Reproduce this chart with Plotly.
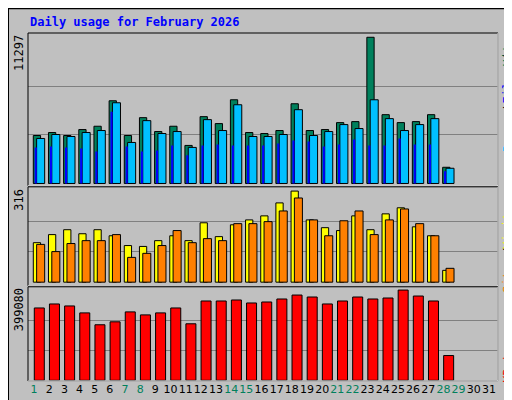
import plotly.graph_objects as go

days = list(range(1, 32))
data_days = list(range(1, 29))
hits = [3706,3936,3706,4166,4422,6390,3706,5086,4013,4422,2939,5163,4626,6467,3936,3859,4090,6160,4090,4166,4703,4780,11297,5316,4703,4780,5316,1252]
files = [3476,3783,3630,3936,4090,6237,3169,4856,3859,4013,2786,4933,4090,6083,3630,3630,3783,5700,3706,4013,4550,4243,6467,5010,4090,4550,5010,1176]
pages = [2786,2863,2786,2709,2479,5547,2863,2479,2556,2939,2173,2939,3016,2939,2939,2939,3093,3323,3246,2863,3016,3400,2939,2939,3476,3016,3016,946]
visits = [137,165,182,168,182,161,127,124,144,161,144,206,158,199,216,230,275,316,216,189,179,230,182,237,258,192,161,41]
sites = [131,106,134,144,144,165,86,100,127,179,137,151,144,203,203,210,247,292,216,161,213,247,165,216,254,203,161,48]
kbytes = [320000,337700,328900,298200,245600,258700,302600,289400,298200,320000,250000,350800,350800,355200,342000,346400,359600,377100,368400,337700,350800,368400,359600,364000,399080,372800,350800,109600]
weekend = [1,7,8,14,15,21,22,28,29]
max_hits, max_visits, max_kb = 11297, 316, 399080

BG = "#C0C0C0"
fig = go.Figure()
line = dict(color="black", width=1)
def bar(y, color, off, w, ax, outline=True):
    fig.add_bar(x=data_days, y=y, offset=off, width=w, marker=dict(color=color, line=line if outline else dict(width=0)),
                xaxis="x", yaxis=ax, showlegend=False, hoverinfo="skip")
bar(hits, "#00805C", -0.05, 0.48, "y")
bar(files, "#00C0FF", 0.17, 0.53, "y")
bar(pages, "#0000FF", 0.04, 0.14, "y", outline=False)
bar(visits, "#FFFF00", -0.05, 0.48, "y2")
bar(sites, "#FF8000", 0.17, 0.53, "y2")
bar(kbytes, "#FF0000", 0.015, 0.66, "y3")

ticktext = [f"<span style='color:{'#00805C' if d in weekend else 'black'}'>{d}</span>" for d in days]
grid = dict(showgrid=True, gridcolor="#808080", gridwidth=1, showticklabels=False, zeroline=False, ticks="")
fig.update_layout(
    width=512, height=400, paper_bgcolor=BG, plot_bgcolor=BG, barmode="overlay",
    margin=dict(l=20, r=22, t=25, b=24),
    font=dict(family="DejaVu Sans Mono", size=11, color="black"),
    xaxis=dict(range=[0.6, 31.6], tickvals=days, ticktext=ticktext, showgrid=False, zeroline=False,
               ticks="", tickangle=0, tickfont=dict(size=11, family="DejaVu Sans"), anchor="y3"),
    yaxis=dict(domain=[0.561, 1], range=[-178, 11627], tickvals=[max_hits/3, 2*max_hits/3], **grid),
    yaxis2=dict(domain=[0.2735, 0.558], range=[-12.7, 330.8], tickvals=[max_visits/3, 2*max_visits/3], **grid),
    yaxis3=dict(domain=[0, 0.2707], range=[-3000, 413560], tickvals=[max_kb/3, 2*max_kb/3], **grid),
)
for dom in [[0.561, 1], [0.2735, 0.558], [0, 0.2707]]:
    fig.add_shape(type="rect", xref="paper", yref="paper", x0=0, x1=1, y0=dom[0], y1=dom[1],
                  line=dict(color="black", width=1))
    fig.add_shape(type="line", xref="paper", yref="paper", x0=0, x1=1, y0=dom[0], y1=dom[0],
                  line=dict(color="white", width=1))
    fig.add_shape(type="line", xref="paper", yref="paper", x0=1, x1=1, y0=dom[0], y1=dom[1],
                  line=dict(color="white", width=1))

def py(p):
    return (376 - p) / 351

ann = dict(xref="paper", yref="paper", showarrow=False, textangle=-90, font=dict(size=12))
fig.add_annotation(text="<b>Daily usage for February 2026</b>", x=0, y=1.0, xanchor="left", yanchor="bottom",
                   xref="paper", yref="paper", showarrow=False, yshift=2,
                   font=dict(size=12, color="#0000FF", family="DejaVu Sans Mono"))
fig.add_annotation(text=str(max_hits), x=0, xshift=-9, y=1, yanchor="top", xanchor="center", **ann)
fig.add_annotation(text=str(max_visits), x=0, xshift=-9, y=0.558, yanchor="top", xanchor="center", **ann)
fig.add_annotation(text=str(max_kb), x=0, xshift=-9, y=0.2707, yanchor="top", xanchor="center", **ann)

labels = [("Hits", "#00805C", 28), ("/", "black", 45), ("Files", "#0000FF", 58), ("/", "black", 97),
          ("Pages", "#00C0FF", 107), ("Visits", "#FFFF00", 198), ("/", "black", 240), ("Sites", "#FF8000", 249),
          ("KBytes", "#FF0000", 333)]
for t, c, p in labels:
    fig.add_annotation(text=t, x=1, xshift=10, y=py(p), yanchor="top", xanchor="center",
                       xref="paper", yref="paper", showarrow=False, textangle=-90,
                       font=dict(size=12, color=c))
fig.add_shape(type="rect", xref="paper", yref="paper", x0=-20/470, x1=1+22/470, y0=-24/351, y1=1+25/351,
              line=dict(color="black", width=2))
fig.write_html("out.html")
